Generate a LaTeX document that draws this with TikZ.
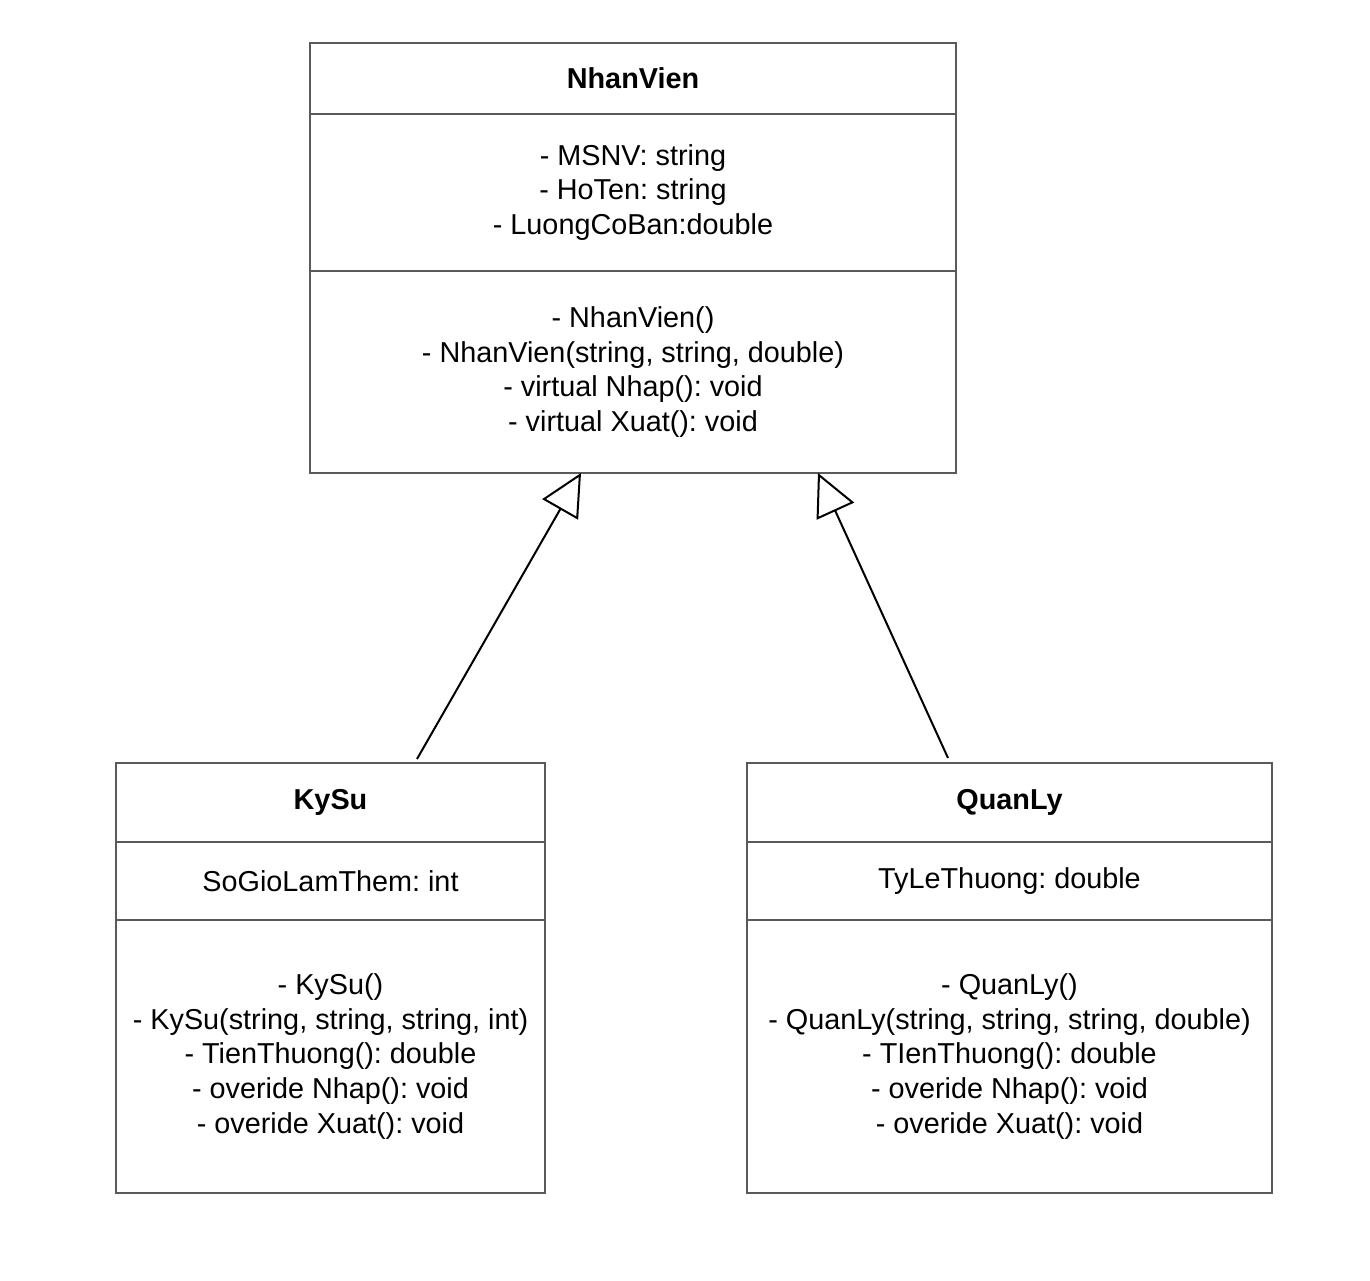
\documentclass[tikz,border=0pt]{standalone}
\usepackage{fontspec}
\setmainfont{Liberation Sans}
\usetikzlibrary{arrows.meta}
\definecolor{bordercol}{HTML}{5A5A5A}
\frenchspacing
\begin{document}
\begin{tikzpicture}[x=1pt,y=-1pt,
  comp/.style={draw=bordercol, line width=2pt, inner sep=0pt, anchor=north west,
    align=center, font=\fontsize{28.8}{34.7}\selectfont},
  inherit/.style={draw=black, line width=2pt,
    -{Triangle[open, length=42pt, width=41pt]}}]
\useasboundingbox[fill=white] (0,0) rectangle (1370,1280);
% NhanVien
\node[comp, minimum width=646pt, minimum height=71pt] (nv-title) at (309,42) {\bfseries NhanVien};
\node[comp, minimum width=646pt, minimum height=157pt] (nv-attr) at (309,113) {- MSNV: string\\- HoTen: string\\- LuongCoBan:double};
\node[comp, minimum width=646pt, minimum height=202pt] (nv-meth) at (309,270) {- NhanVien()\\- NhanVien(string, string, double)\\- virtual Nhap(): void\\- virtual Xuat(): void};
% KySu
\node[comp, minimum width=429pt, minimum height=79pt] (ks-title) at (115,762) {\bfseries KySu};
\node[comp, minimum width=429pt, minimum height=78pt] (ks-attr) at (115,841) {SoGioLamThem: int};
\node[comp, minimum width=429pt, minimum height=273pt] (ks-meth) at (115,919) {- KySu()\\- KySu(string, string, string, int)\\- TienThuong(): double\\- overide Nhap(): void\\- overide Xuat(): void};
% QuanLy
\node[comp, minimum width=525pt, minimum height=79pt] (ql-title) at (746,762) {\bfseries QuanLy};
\node[comp, minimum width=525pt, minimum height=78pt] (ql-attr) at (746,841) {TyLeThuong: double};
\node[comp, minimum width=525pt, minimum height=273pt] (ql-meth) at (746,919) {- QuanLy()\\- QuanLy(string, string, string, double)\\- TIenThuong(): double\\- overide Nhap(): void\\- overide Xuat(): void};
% connector end points
\coordinate (ks-src) at (417,759);
\coordinate (nv-tgt-l) at (581,473);
\coordinate (ql-src) at (948,758);
\coordinate (nv-tgt-r) at (818,473);
\draw[inherit] (ks-src) -- (nv-tgt-l);
\draw[inherit] (ql-src) -- (nv-tgt-r);
\end{tikzpicture}
\end{document}
